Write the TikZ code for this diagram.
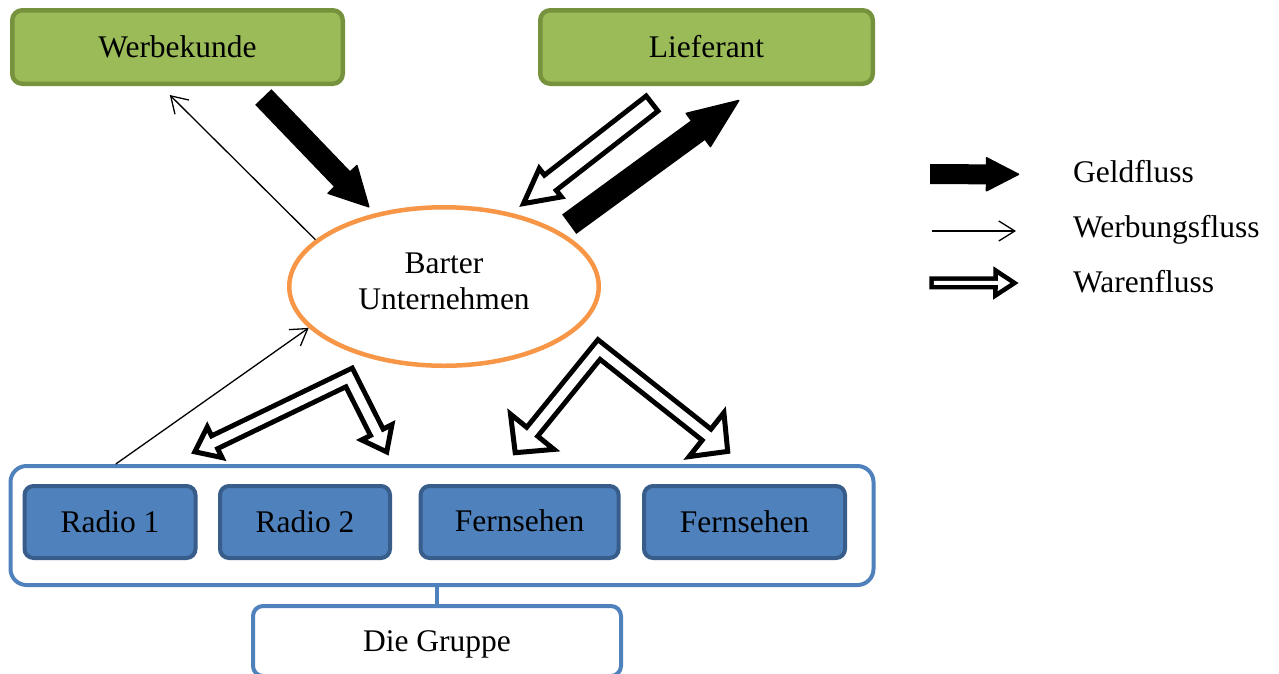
\documentclass[tikz,border=0pt]{standalone}
\usepackage{fontspec}
\setmainfont{Liberation Serif}
\usetikzlibrary{calc,arrows.meta,shapes.geometric}
\definecolor{gfill}{HTML}{9BBB59}
\definecolor{gline}{HTML}{76923C}
\definecolor{oline}{HTML}{F79646}
\definecolor{bfill}{HTML}{4F81BD}
\definecolor{bline}{HTML}{385D8A}
% head geometry: #1 prefix, #2 tip, #3 point behind, #4 length, #5 half width
\newcommand{\mkhead}[5]{%
  \coordinate (#1b) at ($(#2)!#4!(#3)$);
  \coordinate (#1l) at ($(#1b)!#5!90:(#2)$);
  \coordinate (#1r) at ($(#1b)!#5!270:(#2)$);
  \coordinate (#1e) at ($(#1b)!-6pt!(#3)$);
}
% solid block arrow: #1 tail #2 tip #3 width #4 head length #5 head half width #6 prefix
\newcommand{\solidarrow}[6]{%
  \mkhead{#6}{#2}{#1}{#4}{#5}
  \draw[line width=#3] (#1) -- ($(#6b)!-2pt!(#1)$);
  \filldraw[line width=1.5pt, line join=round] (#2) -- (#6l) -- (#6r) -- cycle;
}
% hollow block arrow: #1 tail #2 tip #3 outer w #4 inner w #5 stroke #6 head length #7 head half width #8 prefix
\newcommand{\hollowarrow}[8]{%
  \mkhead{#8}{#2}{#1}{#6}{#7}
  \draw[line width=#3] (#1) -- (#8b);
  \filldraw[fill=white, line width=#5, line join=miter] (#2) -- (#8l) -- (#8r) -- cycle;
  \draw[white, line width=#4] ($(#1)!#5!(#2)$) -- (#8e);
}
% bent hollow double arrow: #1 tip1 #2 apex #3 tip2 #4 outer w #5 inner w #6 stroke #7 head length #8 head half width
\newcommand{\bentarrow}[8]{%
  \mkhead{p#2}{#1}{#2}{#7}{#8}
  \mkhead{q#2}{#3}{#2}{#7}{#8}
  \draw[line width=#4, line join=miter] (p#2b) -- (#2) -- (q#2b);
  \filldraw[fill=white, line width=#6, line join=miter] (#1) -- (p#2l) -- (p#2r) -- cycle;
  \filldraw[fill=white, line width=#6, line join=miter] (#3) -- (q#2l) -- (q#2r) -- cycle;
  \draw[white, line width=#5, line join=miter] (p#2e) -- (#2) -- (q#2e);
}
\begin{document}
\begin{tikzpicture}[x=1pt,y=-1pt,
  every node/.style={font=\fontsize{31.5}{36}\selectfont, inner sep=0pt},
  gbox/.style={draw=gline, fill=gfill, line width=4.5pt, rounded corners=10pt, minimum height=73.5pt},
  mbox/.style={draw=bline, fill=bfill, line width=4pt, rounded corners=9pt, minimum height=72pt},
  grpbox/.style={draw=bfill, fill=white, line width=4pt, rounded corners=16pt},
  thinarr/.style={line width=1.3pt, -{Straight Barb[length=16pt,width=20pt]}},
  legtext/.style={anchor=base west}]
\useasboundingbox[fill=white] (0,0) rectangle (1279,673);

% boxes
\node[gbox, minimum width=330.5pt] (wk) at (177.5,47) {Werbekunde};
\node[gbox, minimum width=332.5pt] (lf) at (706.5,47) {Lieferant};
\node[ellipse, draw=oline, line width=4.5pt, minimum width=309.5pt, minimum height=158.5pt, align=center, text depth=11pt] (bu) at (444,286.5) {Barter\\Unternehmen};

\node[grpbox, minimum width=863pt, minimum height=119pt] (grp) at (442,525.5) {};
\node[mbox, minimum width=171pt] (r1) at (110,522) {Radio 1};
\node[mbox, minimum width=170pt] (r2) at (305,522) {Radio 2};
\node[mbox, minimum width=198pt] (f1) at (519.6,522) {\raisebox{2.5pt}{Fernsehen}};
\node[mbox, minimum width=201pt] (f2) at (744.5,522) {Fernsehen};
\node[draw=bfill, fill=white, line width=4pt, rounded corners=10pt, minimum width=368pt, minimum height=70pt, text depth=0pt] (dg) at (437,641) {Die Gruppe};
\draw[bfill, line width=4pt] (dg.north) -- (dg.north |- grp.south);

% block arrows
\coordinate (wkT0) at (263.3,97);
\coordinate (wkT) at (368.8,206.8);
\solidarrow{wkT0}{wkT}{22.5pt}{38pt}{20pt}{ga}
\coordinate (lfT0) at (569.2,224.2);
\coordinate (lfT) at (738.7,100.5);
\solidarrow{lfT0}{lfT}{24pt}{50pt}{20.5pt}{gb}
\coordinate (wfT0) at (654,102);
\coordinate (wfT) at (523.5,203.6);
\hollowarrow{wfT0}{wfT}{24pt}{14pt}{5pt}{34pt}{18pt}{wa}

\coordinate (laA) at (349.1,377.4);
\coordinate (laT1) at (194.8,451.8);
\coordinate (laT2) at (386.7,451.9);
\bentarrow{laT1}{laA}{laT2}{19pt}{9pt}{5pt}{22pt}{17pt}
\coordinate (raA) at (599,349.5);
\coordinate (raT1) at (515.2,452.7);
\coordinate (raT2) at (727.7,451.4);
\bentarrow{raT1}{raA}{raT2}{19pt}{9pt}{5pt}{27pt}{28pt}

% thin arrows
\coordinate (wkin) at ([xshift=-7.7pt,yshift=-9pt]wk.south);
\draw[thinarr] (bu.160) -- (wkin);
\draw[thinarr] ([xshift=-326.2pt]grp.north) -- (bu.197);

% legend
\coordinate (lg1a) at (930,174.2);
\coordinate (lg1b) at (1018.5,174.3);
\solidarrow{lg1a}{lg1b}{20pt}{32pt}{16.5pt}{gc}
\coordinate (lg2a) at (931.7,231);
\coordinate (lg2b) at (1016,231);
\draw[thinarr] (lg2a) -- (lg2b);
\coordinate (lg3a) at (929.3,282.8);
\coordinate (lg3b) at (1014.5,283);
\hollowarrow{lg3a}{lg3b}{13pt}{4pt}{4.5pt}{19pt}{12.5pt}{wb}
\node[legtext] (t1) at (1073,182.5) {Geldfluss};
\node[legtext] (t2) at (1073,237.5) {Werbungsfluss};
\node[legtext] (t3) at (1073,292.5) {Warenfluss};
\end{tikzpicture}
\end{document}
